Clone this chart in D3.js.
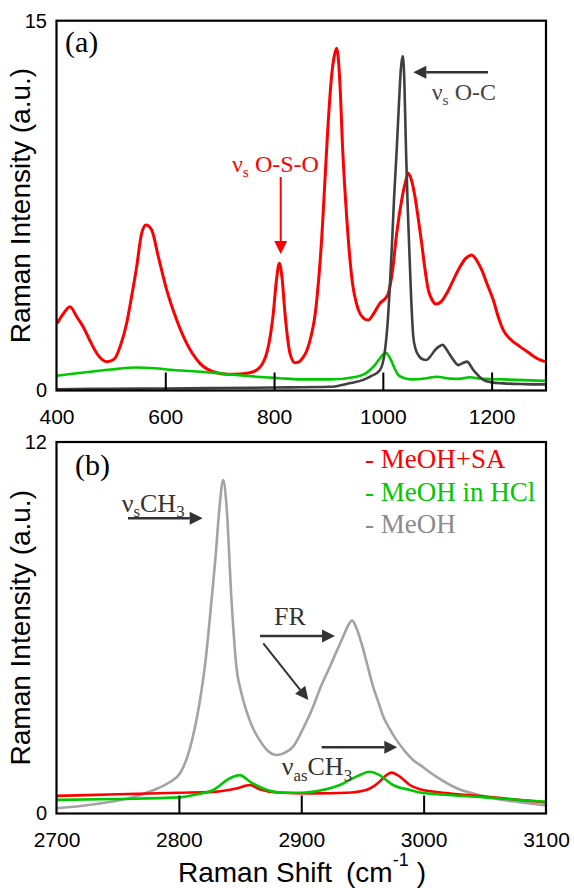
<!DOCTYPE html>
<html>
<head>
<meta charset="utf-8">
<script src="https://cdn.jsdelivr.net/npm/d3@7"></script>
<style>
  html, body { margin: 0; padding: 0; background: #fff; }
  svg { display: block; }
</style>
</head>
<body>
<svg id="chart" width="574" height="888"></svg>
<script>
// ---------------- DATA ----------------
const seriesNames = ["MeOH+SA", "MeOH in HCl", "MeOH"];

// Panel (a): 400-1300 cm-1
const topXTicks = [400, 600, 800, 1000, 1200];
const topYTicks = [0, 15];
const topRed = [[401.5,2.73],[412,3.1],[424.8,3.4],[437,3.0],[449,2.59],[462,2.0],[474,1.51],[484,1.25],[492.3,1.17],[500,1.2],[507.6,1.31],[518,1.85],[529,2.73],[538,3.8],[547.4,5.02],[556.6,6.38],[564.6,6.71],[575,6.51],[587.2,5.43],[602.6,4.08],[621,2.86],[639.4,1.91],[663.8,1.1],[694.5,0.72],[715,0.66],[737.4,0.67],[755,0.72],[768,0.83],[779,1.1],[786.4,1.51],[793,2.2],[798.6,3.13],[804,4.4],[809.7,5.16],[815,4.5],[820.1,3.13],[825,2.1],[829.3,1.51],[838.5,1.13],[845,1.15],[852,1.3],[860,1.6],[868,2.2],[875,3.0],[882,4.5],[888,6.3],[893,8.3],[898,10.3],[906,12.8],[911,13.6],[915.2,13.88],[921,12.5],[926.2,9.76],[933.5,7.05],[942.7,4.62],[955,3.27],[964,2.95],[973.3,2.86],[984,3.15],[994.8,3.54],[1003,3.7],[1010,3.94],[1018,4.9],[1025.5,6.38],[1034.7,7.73],[1041,8.4],[1046.9,8.81],[1053,8.5],[1059.1,7.86],[1065,7.0],[1071.4,5.97],[1077,5.0],[1083.6,4.08],[1090,3.7],[1097.7,3.51],[1107,3.6],[1117.4,3.94],[1130,4.5],[1141.9,5.02],[1152,5.35],[1163.4,5.5],[1172,5.3],[1181.8,4.89],[1192,4.3],[1203.1,3.67],[1212,3.0],[1221.5,2.45],[1236,2.05],[1252.2,1.78],[1267,1.55],[1282.8,1.31],[1298,1.17]];
const topGreen = [[400,0.6],[430,0.68],[461.6,0.76],[500,0.85],[547,0.93],[580,0.9],[614.8,0.83],[650,0.78],[688,0.72],[730,0.63],[768,0.56],[810,0.5],[847.7,0.45],[902.8,0.45],[951.9,0.56],[965,0.65],[976.4,0.83],[986,1.05],[994.8,1.31],[1000,1.45],[1005.8,1.53],[1011,1.4],[1016.3,1.17],[1022,0.88],[1028.4,0.63],[1040,0.5],[1056,0.45],[1080,0.5],[1099,0.56],[1125,0.48],[1140,0.47],[1160,0.54],[1180,0.48],[1220,0.45],[1260,0.42],[1298,0.39]];
const topGray = [[400,0.05],[500,0.07],[600,0.08],[700,0.1],[800,0.12],[902.8,0.15],[940,0.3],[964,0.43],[980,0.6],[994.8,0.83],[1004,1.64],[1009,2.8],[1013.2,4.35],[1017,6.0],[1020.5,7.73],[1025.5,9.76],[1030,11.8],[1033,13.0],[1036.5,13.57],[1039.5,12.6],[1042.6,9.76],[1045.5,7.6],[1048.7,5.7],[1052,3.8],[1056,2.18],[1060,1.7],[1065.2,1.44],[1072,1.28],[1080.6,1.24],[1088,1.4],[1095.9,1.64],[1103,1.78],[1110,1.85],[1116,1.7],[1123.5,1.44],[1131,1.2],[1138.8,1.03],[1146,1.1],[1155.3,1.17],[1160,1.05],[1166.4,0.83],[1175,0.62],[1184.7,0.43],[1200,0.33],[1221.5,0.29],[1260,0.26],[1298,0.25]];

// Panel (b): 2700-3100 cm-1
const botXTicks = [2700, 2800, 2900, 3000, 3100];
const botYTicks = [0, 12];
const botGray = [[2700,0.17],[2720,0.24],[2743,0.37],[2760,0.5],[2779,0.75],[2792,1.0],[2801,1.3],[2809,2.1],[2817,3.6],[2822,5.0],[2826.7,6.9],[2830,8.3],[2833,9.8],[2836.2,10.77],[2839,9.9],[2843,6.9],[2847,4.74],[2851,3.9],[2855,3.34],[2860,2.8],[2866,2.37],[2872,2.05],[2879.8,1.89],[2886,1.95],[2893.4,2.16],[2901,2.7],[2909.7,3.45],[2916,4.1],[2923.4,4.74],[2929,5.25],[2934.2,5.71],[2938,6.05],[2941.6,6.23],[2945,6.0],[2949.2,5.5],[2954,4.8],[2958.7,4.1],[2963,3.6],[2967,3.13],[2972,2.75],[2977.9,2.37],[2985,2.0],[2991.4,1.73],[2997,1.57],[3010,1.2],[3028,0.8],[3045,0.6],[3060,0.47],[3080,0.36],[3100,0.26]];
const botRed = [[2700,0.57],[2750,0.62],[2800,0.67],[2828,0.7],[2847,0.81],[2858,0.92],[2866,0.78],[2880,0.68],[2909.7,0.65],[2937,0.67],[2953,0.76],[2960,0.9],[2964,1.03],[2969.6,1.24],[2973.8,1.32],[2980.6,1.19],[2988.7,0.92],[2997,0.78],[3020,0.65],[3050,0.55],[3075,0.45],[3100,0.36]];
const botGreen = [[2700,0.44],[2750,0.47],[2800.8,0.52],[2815,0.62],[2828,0.76],[2841.7,1.14],[2849.8,1.24],[2858,1.03],[2868.9,0.81],[2882.5,0.68],[2900,0.67],[2915.2,0.74],[2931.5,0.92],[2945,1.19],[2956,1.35],[2964,1.24],[2975,0.92],[2988.7,0.76],[2997,0.68],[3020,0.6],[3050,0.52],[3075,0.45],[3100,0.38]];

// ---------------- DRAW ----------------
const svg = d3.select("#chart");
const RED = "#ff0000", GREEN = "#00c800", DARK = "#404040", LIGHT = "#a3a3a3", ARROW = "#333333";
const SANS = "'Liberation Sans', Arial, sans-serif";
const SERIF = "'Liberation Serif', 'Times New Roman', serif";
const L = 56.5, R = 546;

function panel(cfg) {
  const x = d3.scaleLinear().domain(cfg.xDomain).range([L, R]);
  const y = d3.scaleLinear().domain(cfg.yDomain).range([cfg.bottom, cfg.top]);
  const g = svg.append("g");

  const line = d3.line().x(d => x(d[0])).y(d => y(d[1])).curve(d3.curveMonotoneX);
  cfg.series.forEach(s => {
    g.append("path").datum(s.data)
      .attr("fill", "none").attr("stroke", s.color)
      .attr("stroke-width", s.width).attr("stroke-linejoin", "round")
      .attr("d", line);
  });

  const xa = g.append("g").attr("transform", `translate(0,${cfg.bottom})`)
    .call(d3.axisBottom(x).tickValues(cfg.xTicks).tickSizeInner(-18).tickSizeOuter(0)
      .tickPadding(18.5).tickFormat(d3.format("d")));
  xa.select(".domain").remove();
  xa.selectAll(".tick line").attr("stroke", "#000").attr("stroke-width", 2)
    .attr("display", d => (d === cfg.xDomain[0] || d === cfg.xDomain[1]) ? "none" : null);
  xa.selectAll(".tick text").attr("font-family", SANS).attr("font-size", 21).attr("fill", "#000");

  const ya = g.append("g").attr("transform", `translate(${L},0)`)
    .call(d3.axisLeft(y).tickValues(cfg.yTicks).tickSize(0).tickPadding(9.5));
  ya.select(".domain").remove();
  ya.selectAll(".tick text").attr("font-family", SANS).attr("font-size", 20).attr("fill", "#000");

  g.append("rect").attr("x", L).attr("y", cfg.top).attr("width", R - L).attr("height", cfg.bottom - cfg.top)
    .attr("fill", "none").attr("stroke", "#000").attr("stroke-width", 2.2);

  g.append("text").attr("transform", `translate(30,${(cfg.top + cfg.bottom) / 2}) rotate(-90)`)
    .attr("text-anchor", "middle").attr("font-family", SANS).attr("font-size", 28).attr("fill", "#000")
    .text("Raman Intensity (a.u.)");
  return { x, y, g };
}

function arrow(x1, y1, x2, y2, color, lw = 2.2, hl = 13, hw = 13) {
  const a = Math.atan2(y2 - y1, x2 - x1);
  const bx = x2 - hl * Math.cos(a), by = y2 - hl * Math.sin(a);
  svg.append("line").attr("x1", x1).attr("y1", y1).attr("x2", bx).attr("y2", by)
    .attr("stroke", color).attr("stroke-width", lw);
  const px = -Math.sin(a) * hw / 2, py = Math.cos(a) * hw / 2;
  svg.append("path").attr("d", `M${x2},${y2}L${bx + px},${by + py}L${bx - px},${by - py}Z`).attr("fill", color);
}

// text with subscripts: parts = [{t, sub}]
function label(x, y, parts, color, size) {
  const t = svg.append("text").attr("x", x).attr("y", y).attr("font-family", SERIF)
    .attr("font-size", size).attr("fill", color);
  const shift = size * 0.22;
  let cur = 0;
  parts.forEach(p => {
    const target = p.sub ? shift : 0;
    const ts = t.append("tspan").text(p.t);
    if (target !== cur) ts.attr("dy", target - cur);
    if (p.sub) ts.attr("font-size", size * 0.65);
    cur = target;
  });
  return t;
}

// ---- Panel (a)
const A = panel({
  xDomain: [400, 1300], yDomain: [0, 15], top: 20.7, bottom: 390.5,
  xTicks: topXTicks, yTicks: topYTicks,
  series: [
    { data: topRed, color: RED, width: 3 },
    { data: topGreen, color: GREEN, width: 2.6 },
    { data: topGray, color: DARK, width: 2.6 }
  ]
});

// ---- Panel (b)
const B = panel({
  xDomain: [2700, 3100], yDomain: [0, 12], top: 442, bottom: 813.5,
  xTicks: botXTicks, yTicks: botYTicks,
  series: [
    { data: botGray, color: LIGHT, width: 2.6 },
    { data: botRed, color: RED, width: 2.6 },
    { data: botGreen, color: GREEN, width: 2.6 }
  ]
});

// x title
const xt = svg.append("text").attr("x", 302).attr("y", 882).attr("text-anchor", "middle")
  .attr("font-family", SANS).attr("font-size", 28).attr("fill", "#000");
xt.append("tspan").text("Raman Shift");
xt.append("tspan").attr("dx", 14).text("(cm");
xt.append("tspan").attr("dy", -16).attr("font-size", 18).text("-1");
xt.append("tspan").attr("dy", 16).attr("dx", 8).text(")");

// annotations panel (a)
label(65, 52, [{ t: "(a)" }], "#000", 30);
label(232, 172, [{ t: "\u03bd" }, { t: "s", sub: true }, { t: " O-S-O" }], RED, 24);
arrow(280.7, 177, 280.7, 254, RED, 2);
arrow(488, 72.3, 413.3, 72.3, ARROW, 2.4);
label(431.7, 100, [{ t: "\u03bd" }, { t: "s", sub: true }, { t: " O-C" }], "#444", 24);

// annotations panel (b)
label(75, 475, [{ t: "(b)" }], "#000", 30);
const legendColors = [RED, GREEN, "#8c8c8c"];
seriesNames.forEach((n, i) => {
  svg.append("text").attr("x", 365).attr("y", 468 + i * 32.5)
    .attr("font-family", SERIF).attr("font-size", 27).attr("fill", legendColors[i])
    .text("- " + n);
});
label(121.7, 511.7, [{ t: "\u03bd" }, { t: "s", sub: true }, { t: "CH" }, { t: "3", sub: true }], ARROW, 26);
arrow(128, 518.3, 202.7, 518.3, ARROW, 2.4);
label(274, 625, [{ t: "FR" }], ARROW, 26);
arrow(260, 636, 335, 636, ARROW, 2.4);
arrow(263.3, 643.3, 308.3, 700, ARROW, 2);
label(281.7, 775, [{ t: "\u03bd" }, { t: "as", sub: true }, { t: "CH" }, { t: "3", sub: true }], ARROW, 26);
arrow(321.7, 747.3, 397.3, 747.3, ARROW, 2.4);
</script>
</body>
</html>
